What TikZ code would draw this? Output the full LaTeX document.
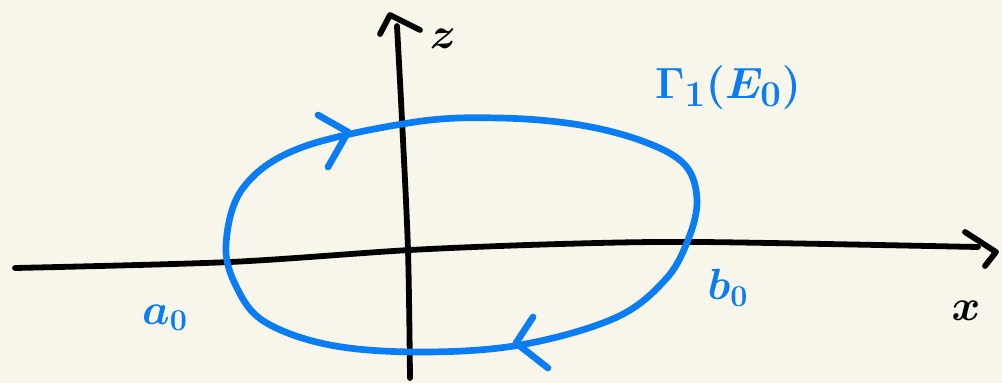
\documentclass[tikz,border=0pt]{standalone}
\usepackage{tikz}
\usetikzlibrary{positioning}
\definecolor{PaperCream}{RGB}{248,246,234}
\definecolor{PenBlue}{RGB}{10,125,245}

\begin{document}
\begin{tikzpicture}[
    x=0.02cm, y=-0.02cm,
    axis/.style={line width=3.3pt, black, line cap=round, line join=round},
    orbit/.style={line width=3.8pt, PenBlue, line cap=round, line join=round},
    bluelbl/.style={text=PenBlue, inner sep=0pt,
        font=\fontsize{26}{30}\selectfont\boldmath},
    axlbl/.style={text=black, inner sep=0pt,
        font=\fontsize{24}{28}\selectfont\boldmath},
]

% papier
\fill[PaperCream] (0,0) rectangle (1002,383);
\useasboundingbox (0,0) rectangle (1002,383);

% axes
\coordinate (xs) at (15,268);
\coordinate (xe) at (978,247);
\coordinate (zs) at (410,378);
\coordinate (ze) at (397,26);
\draw[axis] plot[smooth] coordinates {(xs) (230,262) (410,250) (560,244) (700,242) (xe)};
\draw[axis] (965,232) -- (996,252) -- (985,266);
\draw[axis] plot[smooth] coordinates {(zs) (408,250) (402,120) (ze)};
\draw[axis] (380,34) -- (390,15) -- (420,30);

\node[axlbl] (xl) at (966,311) {$x$};
\node[axlbl] (zl) at (443,39) {$z$};

% la courbe fermee
\draw[orbit] plot[smooth cycle, tension=0.6] coordinates {
    (226,245) (243,188) (300,148) (415,122) (500,118) (580,125)
    (645,142) (685,165) (697,200) (688,240) (665,280) (615,318)
    (520,345) (420,352) (330,345) (265,322) (237,288)};
\draw[orbit] (318,115) -- (348,132) -- (328,167);
\draw[orbit] (533,317) -- (516,343) -- (548,368);

% etiquettes
\node[bluelbl] (a0) at (165,318) {$a_0$};
\node[bluelbl] (b0) at (728,288) {$b_0$};
\node[bluelbl, font=\fontsize{30}{34}\selectfont\boldmath] (gam) at (728,88) {$\Gamma_1(E_0)$};

\end{tikzpicture}
\end{document}
